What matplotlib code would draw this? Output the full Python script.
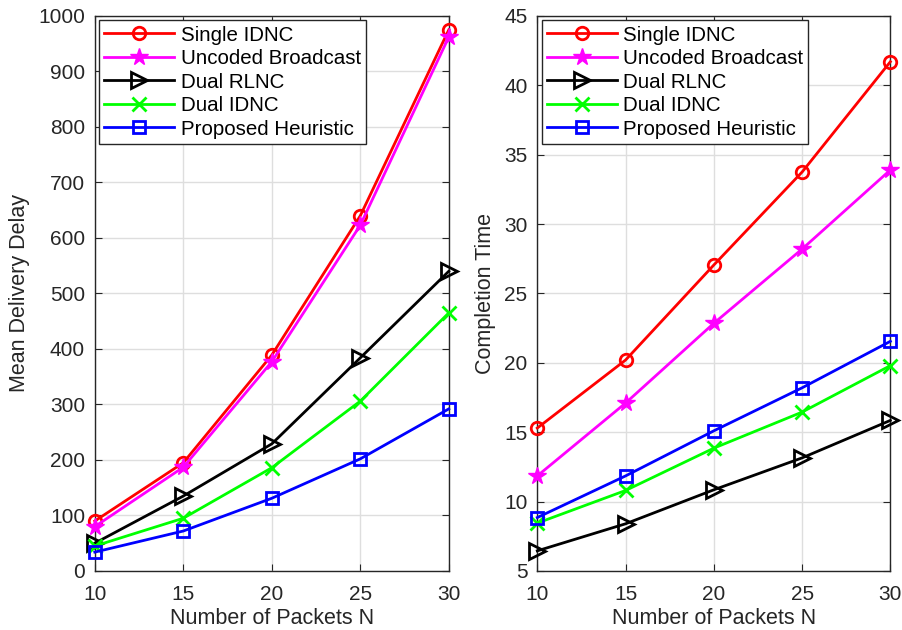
import matplotlib
matplotlib.use("Agg")
import matplotlib.pyplot as plt

N = [10, 15, 20, 25, 30]
labels = ["Single IDNC", "Uncoded Broadcast", "Dual RLNC", "Dual IDNC", "Proposed Heuristic"]

delay_single = [90, 195, 389, 640, 975]
delay_uncoded = [80, 187, 377, 623, 962]
delay_rlnc = [50, 135, 229, 384, 540]
delay_didnc = [45, 95, 186, 306, 465]
delay_prop = [34, 72, 131, 202, 292]

ct_single = [15.3, 20.2, 27.05, 33.75, 41.7]
ct_uncoded = [11.85, 17.1, 22.85, 28.2, 33.9]
ct_rlnc = [6.45, 8.4, 10.85, 13.15, 15.85]
ct_didnc = [8.45, 10.8, 13.85, 16.45, 19.8]
ct_prop = [8.85, 11.85, 15.1, 18.2, 21.55]

colors = ["#ff0000", "#ff00ff", "#000000", "#00ff00", "#0000ff"]
markers = ["o", "*", ">", "x", "s"]
msizes = [9, 13, 11, 10, 8]

plt.rcParams['font.family'] = ['Liberation Sans', 'DejaVu Sans']

fig = plt.figure(figsize=(9.03, 6.3), dpi=100)
ax1 = fig.add_axes([0.105, 0.0937, 0.392, 0.881])
ax2 = fig.add_axes([0.595, 0.0937, 0.391, 0.881])

def draw(ax, series, ylim, yticks, ylabel):
    for s, c, m, ms, lab in zip(series, colors, markers, msizes, labels):
        ax.plot(N, s, color=c, marker=m, markersize=ms, linewidth=2,
                markerfacecolor='none' if m != '*' else c,
                markeredgewidth=2 if m != '*' else 1, label=lab, clip_on=False, zorder=3)
    ax.set_xlim(10, 30)
    ax.set_ylim(*ylim)
    ax.set_xticks(N)
    ax.set_yticks(yticks)
    ax.grid(True, color='#dedede', linewidth=1)
    ax.set_axisbelow(True)
    ax.tick_params(direction='in', labelsize=15, colors='#262626', length=5,
                   top=True, right=True)
    ax.tick_params(axis='x', pad=10)
    ax.tick_params(axis='y', pad=7)
    for sp in ax.spines.values():
        sp.set_color('#262626')
        sp.set_linewidth(1)
    ax.set_xlabel("Number of Packets N", fontsize=15.5, color='#262626', labelpad=3)
    ax.set_ylabel(ylabel, fontsize=15.5, color='#262626', labelpad=6)
    leg = ax.legend(loc='upper left', fontsize=14.8, frameon=True, fancybox=False,
                    edgecolor='#262626', framealpha=1, handlelength=3.4,
                    borderaxespad=0.22, labelspacing=0.22, borderpad=0.25, handletextpad=0.3)
    leg.get_frame().set_linewidth(1)

draw(ax1, [delay_single, delay_uncoded, delay_rlnc, delay_didnc, delay_prop],
     (0, 1000), range(0, 1001, 100), "Mean Delivery Delay")
draw(ax2, [ct_single, ct_uncoded, ct_rlnc, ct_didnc, ct_prop],
     (5, 45), range(5, 46, 5), "Completion Time")

fig.savefig("out.png", dpi=100)
